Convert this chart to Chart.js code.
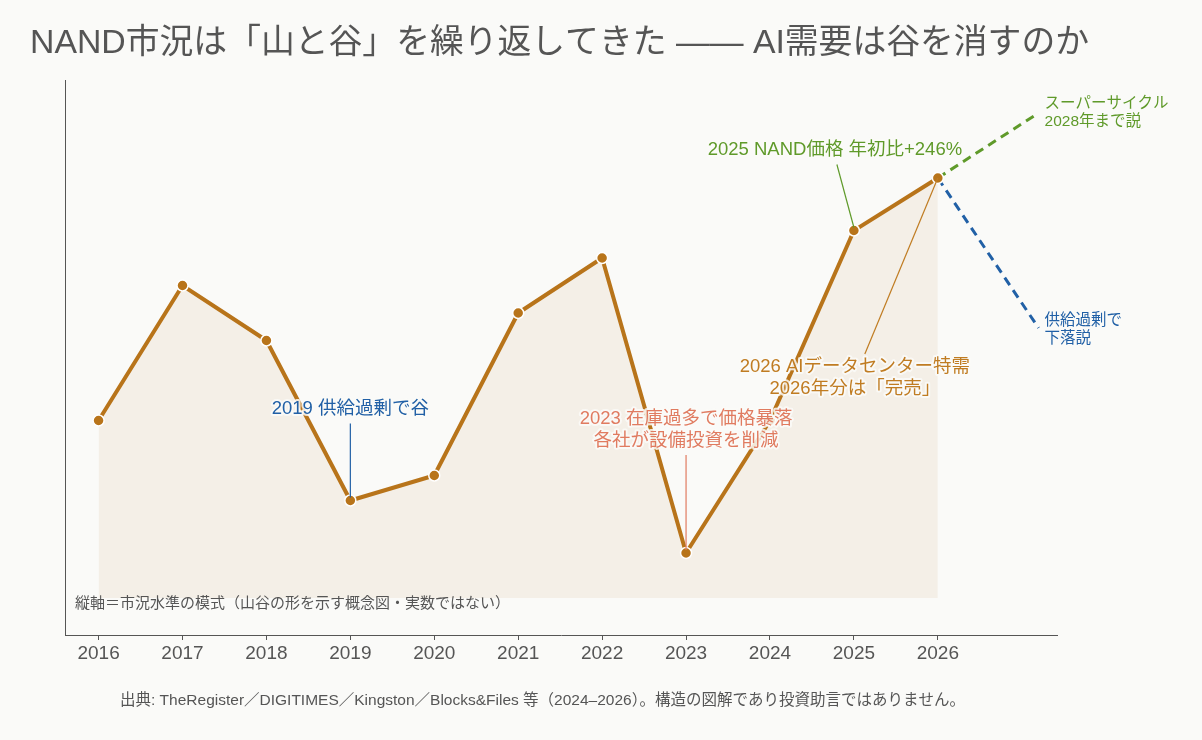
<!DOCTYPE html>
<html lang="ja">
<head>
<meta charset="utf-8">
<title>NAND市況</title>
<script src="https://cdn.jsdelivr.net/npm/chart.js@4.4.1/dist/chart.umd.min.js"></script>
<style>
  html, body { margin: 0; padding: 0; background: #fafaf8; }
  canvas { display: block; }
</style>
</head>
<body>
<canvas id="nandChart" width="1202" height="740"></canvas>
<script>
// data (y = market level, schematic, not real numbers)
const years = [2016, 2017, 2018, 2019, 2020, 2021, 2022, 2023, 2024, 2025, 2026];
const marketLevel = [35.5, 62.5, 51.5, 19.5, 24.5, 57, 68, 9, 35.5, 73.5, 84];
const superCycle = [[2026, 84], [2027.2, 97]];
const oversupply = [[2026, 84], [2027.2, 54]];

const FONT = '"Liberation Sans", "Noto Sans CJK JP", sans-serif';
const GRAY = '#555555';
const ORANGE = '#b8741a';
const GREEN = '#5f9a2a';
const BLUE = '#2160a6';
const SALMON = '#e07b60';
const BG = '#fafaf8';

// annotations: year/value point, text offset in px, leader line
const notes = [
  { x: 2019, y: 19.5, color: BLUE, lines: ['2019 供給過剰で谷'], tx: 0, ty: -92, lead: [0, -77, 0, -3] },
  { x: 2023, y: 9, color: SALMON, lines: ['2023 在庫過多で価格暴落', '各社が設備投資を削減'], tx: 0, ty: -134, lead: [0, -98, 0, -3] },
  { x: 2025, y: 73.5, color: GREEN, lines: ['2025 NAND価格 年初比+246%'], tx: -19, ty: -81, lead: [-17, -66, 0, -3] },
  { x: 2026, y: 84, color: '#c07c22', lines: ['2026 AIデータセンター特需', '2026年分は「完売」'], tx: -83, ty: 189, lead: [-73, 176, 0, 0] }
];
const sideNotes = [
  { x: 2027.2, y: 97, color: GREEN, lines: ['スーパーサイクル', '2028年まで説'], dx: 6, dy: -9 },
  { x: 2027.2, y: 54, color: BLUE, lines: ['供給過剰で', '下落説'], dx: 6, dy: -7 }
];

function haloText(ctx, text, x, y) {
  ctx.save();
  ctx.lineWidth = 4;
  ctx.lineJoin = 'round';
  ctx.strokeStyle = 'rgba(250,250,248,0.85)';
  ctx.strokeText(text, x, y);
  ctx.restore();
  ctx.fillText(text, x, y);
}

const annotatePlugin = {
  id: 'annotate',
  beforeDraw(chart) {
    const ctx = chart.ctx;
    ctx.save();
    ctx.fillStyle = BG;
    ctx.fillRect(0, 0, chart.width, chart.height);
    ctx.restore();
  },
  afterDatasetsDraw(chart) {
    const ctx = chart.ctx;
    const xs = chart.scales.x, ys = chart.scales.y;
    ctx.save();

    // leader lines + labels
    notes.forEach(n => {
      const px = xs.getPixelForValue(n.x), py = ys.getPixelForValue(n.y);
      ctx.strokeStyle = n.color;
      ctx.lineWidth = 1.2;
      ctx.beginPath();
      ctx.moveTo(px + n.lead[0], py + n.lead[1]);
      ctx.lineTo(px + n.lead[2], py + n.lead[3]);
      ctx.stroke();
      ctx.font = '18.5px ' + FONT;
      ctx.fillStyle = n.color;
      ctx.textAlign = 'center';
      ctx.textBaseline = 'middle';
      n.lines.forEach((t, i) => haloText(ctx, t, px + n.tx, py + n.ty + i * 22));
    });

    sideNotes.forEach(n => {
      const px = xs.getPixelForValue(n.x), py = ys.getPixelForValue(n.y);
      ctx.font = '15.5px ' + FONT;
      ctx.fillStyle = n.color;
      ctx.textAlign = 'left';
      ctx.textBaseline = 'middle';
      n.lines.forEach((t, i) => ctx.fillText(t, px + n.dx, py + n.dy + i * 18));
    });

    // note in the plot
    ctx.font = '15px ' + FONT;
    ctx.fillStyle = GRAY;
    ctx.textAlign = 'left';
    ctx.textBaseline = 'middle';
    ctx.fillText('縦軸＝市況水準の模式（山谷の形を示す概念図・実数ではない）', 75, 604);
    ctx.restore();
  },
  afterDraw(chart) {
    const ctx = chart.ctx;
    ctx.save();
    ctx.fillStyle = GRAY;
    ctx.textBaseline = 'middle';
    ctx.textAlign = 'left';
    ctx.font = '33.8px ' + FONT;
    ctx.fillText('NAND市況は「山と谷」を繰り返してきた —— AI需要は谷を消すのか', 30, 44);
    ctx.font = '15.5px ' + FONT;
    ctx.fillText('出典: TheRegister／DIGITIMES／Kingston／Blocks&Files 等（2024–2026）。構造の図解であり投資助言ではありません。', 120, 701);
    ctx.restore();
  }
};

const ctx = document.getElementById('nandChart').getContext('2d');
new Chart(ctx, {
  type: 'line',
  data: {
    datasets: [
      {
        label: '市況',
        data: years.map((y, i) => ({ x: y, y: marketLevel[i] })),
        borderColor: ORANGE,
        borderWidth: 4,
        backgroundColor: '#f4efe7',
        fill: 'origin',
        pointRadius: 5.5,
        pointBackgroundColor: ORANGE,
        pointBorderColor: '#ffffff',
        pointBorderWidth: 1.5,
        tension: 0,
        order: 0
      },
      {
        label: 'スーパーサイクル',
        data: superCycle.map(p => ({ x: p[0], y: p[1] })),
        borderColor: GREEN,
        borderWidth: 3,
        borderDash: [9, 6],
        pointRadius: 0,
        fill: false,
        order: 1
      },
      {
        label: '下落説',
        data: oversupply.map(p => ({ x: p[0], y: p[1] })),
        borderColor: BLUE,
        borderWidth: 3,
        borderDash: [9, 6],
        pointRadius: 0,
        fill: false,
        order: 1
      }
    ]
  },
  options: {
    responsive: false,
    animation: false,
    layout: { padding: { left: 65, right: 145, top: 80, bottom: 0 } },
    plugins: {
      legend: { display: false },
      tooltip: { enabled: false }
    },
    scales: {
      x: {
        type: 'linear',
        min: 2015.6,
        max: 2027.42,
        afterFit(scale) { scale.height = 105; },
        afterBuildTicks(scale) {
          scale.ticks = years.map(v => ({ value: v }));
        },
        ticks: {
          stepSize: 1,
          includeBounds: false,
          color: GRAY,
          font: { family: FONT, size: 19 },
          padding: 2,
          maxRotation: 0,
          callback: v => String(v)
        },
        grid: { drawOnChartArea: false, drawTicks: true, tickLength: 5, color: GRAY },
        border: { display: true, color: GRAY, width: 1 }
      },
      y: {
        min: -7.4,
        max: 103.6,
        afterFit(scale) { scale.width = 0; },
        ticks: { display: false },
        grid: { display: false },
        border: { display: true, color: GRAY, width: 1 }
      }
    }
  },
  plugins: [annotatePlugin]
});
</script>
</body>
</html>
